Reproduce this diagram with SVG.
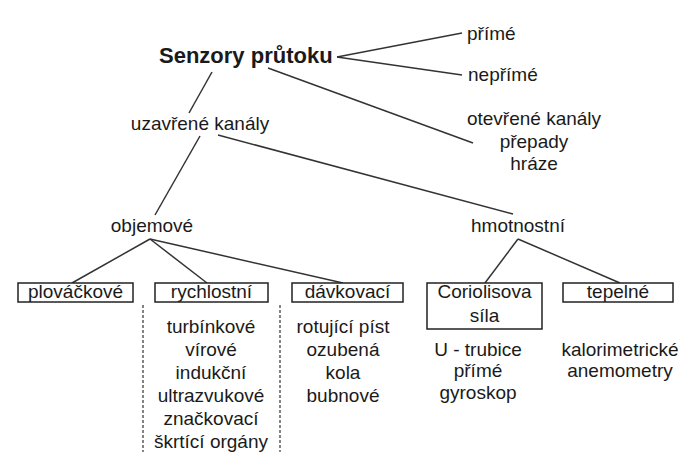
<svg xmlns="http://www.w3.org/2000/svg" width="694" height="470" viewBox="0 0 694 470">
<style>
text{font-family:"Liberation Sans",Arial,sans-serif;font-size:19px;fill:#1a1a1a}
.c{text-anchor:middle}
.t{font-size:22px;font-weight:bold}
.ln{stroke:#333;stroke-width:1.5;fill:none}
.box{stroke:#222;stroke-width:1.5;fill:#fff}
.d{stroke:#333;stroke-width:1.2;stroke-dasharray:3,2;fill:none}
</style>
<rect width="694" height="470" fill="#fff"/>
<g id="connectors">
<line class="ln" x1="337" y1="57" x2="462" y2="33"/>
<line class="ln" x1="337" y1="57" x2="462" y2="75"/>
<line class="ln" x1="268" y1="68" x2="473" y2="143"/>
<line class="ln" x1="212" y1="72" x2="189" y2="113"/>
<line class="ln" x1="200" y1="136" x2="155" y2="215"/>
<line class="ln" x1="218" y1="135" x2="513" y2="214"/>
<line class="ln" x1="150" y1="239" x2="72" y2="283"/>
<line class="ln" x1="150" y1="239" x2="207" y2="283"/>
<line class="ln" x1="150" y1="239" x2="343" y2="283"/>
<line class="ln" x1="518" y1="239" x2="485" y2="283"/>
<line class="ln" x1="518" y1="239" x2="620" y2="283"/>
<line class="d" x1="143" y1="305" x2="143" y2="452"/>
<line class="d" x1="280" y1="305" x2="280" y2="452"/>
</g>
<g id="root"><text class="t" x="159" y="63">Senzory průtoku</text></g>
<g id="prime"><text x="467" y="40">přímé</text></g>
<g id="neprime"><text x="468" y="81">nepřímé</text></g>
<g id="otevrene"><text class="c" x="534" y="125">otevřené kanály</text><text class="c" x="534" y="148">přepady</text><text class="c" x="534" y="170">hráze</text></g>
<g id="uzavrene"><text class="c" x="200" y="130">uzavřené kanály</text></g>
<g id="objemove"><text class="c" x="152" y="232">objemové</text></g>
<g id="hmotnostni"><text class="c" x="518" y="232">hmotnostní</text></g>
<g id="plovackove"><rect class="box" x="18" y="283" width="115" height="19"/><text class="c" x="75.5" y="298">plováčkové</text></g>
<g id="rychlostni"><rect class="box" x="155" y="283" width="113" height="19"/><text class="c" x="211.5" y="298">rychlostní</text>
<text class="c" x="211" y="333">turbínkové</text><text class="c" x="211" y="356">vírové</text><text class="c" x="211" y="379">indukční</text><text class="c" x="211" y="402">ultrazvukové</text><text class="c" x="211" y="425">značkovací</text><text class="c" x="211" y="448">škrtící orgány</text></g>
<g id="davkovaci"><rect class="box" x="292" y="283" width="111" height="19"/><text class="c" x="347.5" y="298">dávkovací</text>
<text class="c" x="343" y="333">rotující píst</text><text class="c" x="343" y="356">ozubená</text><text class="c" x="343" y="379">kola</text><text class="c" x="343" y="402">bubnové</text></g>
<g id="coriolis"><rect class="box" x="427" y="283" width="115" height="46"/><text class="c" x="484.5" y="298">Coriolisova</text><text class="c" x="484.5" y="322">síla</text>
<text class="c" x="478" y="356">U - trubice</text><text class="c" x="478" y="377">přímé</text><text class="c" x="478" y="399">gyroskop</text></g>
<g id="tepelne"><rect class="box" x="563" y="283" width="110" height="19"/><text class="c" x="618" y="298">tepelné</text>
<text class="c" x="620" y="356">kalorimetrické</text><text class="c" x="620" y="377">anemometry</text></g>
</svg>
